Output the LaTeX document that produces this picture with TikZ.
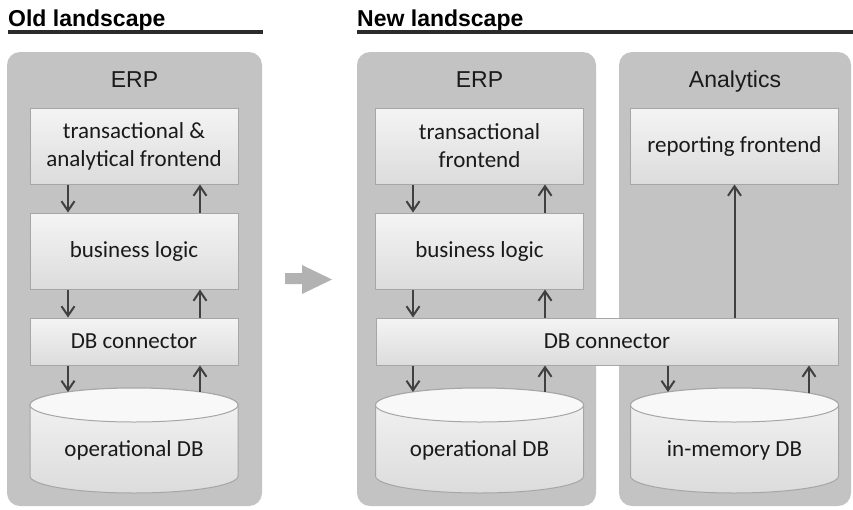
\documentclass[tikz,border=0pt]{standalone}
\usepackage{fontspec}
\setmainfont{Carlito}
\newfontfamily\arialfont{Liberation Sans}
\usetikzlibrary{arrows.meta}
\definecolor{panelgray}{HTML}{C3C3C3}
\definecolor{boxtop}{HTML}{F4F4F4}
\definecolor{boxbot}{HTML}{DCDCDC}
\definecolor{boxline}{HTML}{A6A6A6}
\definecolor{arrowdark}{HTML}{404040}
\definecolor{bigarrow}{HTML}{B2B2B2}
\definecolor{txt}{HTML}{1A1A1A}
\definecolor{rulecol}{HTML}{2B2B2B}
\begin{document}
\begin{tikzpicture}[x=1pt,y=-1pt,
  panel/.style={fill=panelgray, rounded corners=13pt},
  layerbox/.style={draw=boxline, line width=1pt, top color=boxtop, bottom color=boxbot,
    minimum width=208pt, minimum height=76pt, inner sep=0pt, text=txt,
    font=\fontsize{23}{28}\selectfont, align=center},
  paneltitle/.style={anchor=base, text=txt, font=\arialfont\fontsize{23}{28}\selectfont, inner sep=0pt},
  heading/.style={anchor=base west, text=black, font=\arialfont\bfseries\fontsize{23}{28}\selectfont, inner sep=0pt},
  dbtext/.style={text=txt, font=\fontsize{23}{28}\selectfont, inner sep=0pt},
  arr/.style={draw=arrowdark, line width=2pt, -{Straight Barb[length=9.5pt,width=13pt]}},
  cylbody/.style={draw=boxline, line width=1pt, top color=boxtop, bottom color=boxbot},
  cyltop/.style={draw=boxline, line width=1pt, fill=boxtop!60!white},
]
\useasboundingbox (0,0) rectangle (853,509);

% headings
\node[heading] (hold) at (8,26) {Old landscape};
\node[heading] (hnew) at (357,26) {New landscape};
\draw[rulecol, line width=4pt] (8,32) -- (263,32);
\draw[rulecol, line width=4pt] (357,32) -- (853,32);

% panels
\fill[panel] (7,52) rectangle (262,506);
\fill[panel] (357,52) rectangle (596,506);
\fill[panel] (619,52) rectangle (851,506);

\node[paneltitle] (t1) at (134.5,87) {ERP};
\node[paneltitle] (t2) at (479.5,87) {ERP};
\node[paneltitle] (t3) at (735,87) {Analytics};

% big arrow
\fill[bigarrow] (285,273) -- (302,273) -- (302,265) -- (332,279.5) -- (302,294) -- (302,284) -- (285,284) -- cycle;

% old landscape boxes
\node[layerbox] (o1) at (134,146) {transactional \&\\analytical frontend};
\node[layerbox] (o2) at (134,251) {business logic};
\node[layerbox, minimum height=47pt] (o3) at (134,341.5) {DB connector};

% new landscape boxes
\node[layerbox] (n1) at (479.5,146) {transactional\\frontend};
\node[layerbox] (n2) at (479.5,251) {business logic};
\node[layerbox, minimum width=462pt, minimum height=47pt] (nc) at (607,341.5) {DB connector};
\node[layerbox] (r1) at (734.5,146) {reporting frontend};

% cylinders
\foreach \cx in {134,479.5,734.5}{
  \path[cylbody] (\cx-104,405) -- (\cx-104,476)
     arc[start angle=180, end angle=360, x radius=104pt, y radius=17pt]
     -- (\cx+104,405)
     arc[start angle=0, end angle=180, x radius=104pt, y radius=17pt] -- cycle;
  \path[cyltop] (\cx,405) ellipse [x radius=104pt, y radius=17pt];
}
\node[dbtext] (db1) at (134,450) {operational DB};
\node[dbtext] (db2) at (479.5,450) {operational DB};
\node[dbtext] (db3) at (734.5,450) {in-memory DB};

% columns for arrows
\coordinate (xa) at (68,0);
\coordinate (xb) at (200,0);
\coordinate (xc) at (413,0);
\coordinate (xd) at (545,0);
\coordinate (d1a) at (68,392);
\coordinate (d1b) at (200,392);
\coordinate (d2a) at (413,392);
\coordinate (d2b) at (545,392);
\coordinate (d3a) at (668,392);
\coordinate (d3b) at (809,393);

% old arrows
\draw[arr] (o1.south -| xa) -- (o2.north -| xa);
\draw[arr] (o2.north -| xb) -- (o1.south -| xb);
\draw[arr] (o2.south -| xa) -- (o3.north -| xa);
\draw[arr] (o3.north -| xb) -- (o2.south -| xb);
\draw[arr] (o3.south -| d1a) -- (d1a);
\draw[arr] (d1b) -- (o3.south -| d1b);

% new arrows
\draw[arr] (n1.south -| xc) -- (n2.north -| xc);
\draw[arr] (n2.north -| xd) -- (n1.south -| xd);
\draw[arr] (n2.south -| xc) -- (nc.north -| xc);
\draw[arr] (nc.north -| xd) -- (n2.south -| xd);
\draw[arr] (nc.south -| d2a) -- (d2a);
\draw[arr] (d2b) -- (nc.south -| d2b);
\draw[arr] (nc.south -| d3a) -- (d3a);
\draw[arr] (d3b) -- (nc.south -| d3b);
\draw[arr] (nc.north -| r1.south) -- (r1.south);
\end{tikzpicture}
\end{document}
